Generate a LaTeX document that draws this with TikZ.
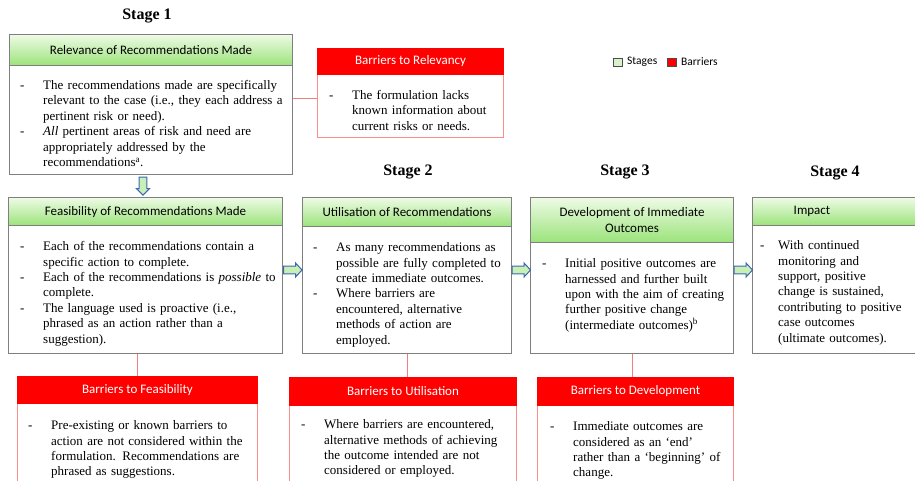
\documentclass[tikz,border=0pt]{standalone}
\usepackage{fontspec}
\setmainfont{Liberation Serif}
\newfontfamily\hdfont{Carlito}
\usetikzlibrary{calc}
\definecolor{boxgray}{HTML}{7F7F7F}
\definecolor{hdtop}{HTML}{EEFBE6}
\definecolor{hdbot}{HTML}{9BE37A}
\definecolor{barred}{HTML}{FF0000}
\definecolor{barline}{HTML}{FF8C8C}
\definecolor{conred}{HTML}{F07F7F}
\definecolor{arrblue}{HTML}{3A66B8}
\definecolor{arrfill}{HTML}{C8F0B4}
\definecolor{lgreen}{HTML}{D8F2CC}
\newlength\dashind
\setlength\dashind{23pt}
\newcommand{\nl}{\hfil\break}
\newcommand{\itm}[1]{\par\noindent\hangindent=\dashind\hangafter=1\makebox[\dashind][l]{-}\strut#1\par}
\tikzset{
  greenhead/.style={draw=boxgray, line width=1.1pt, top color=hdtop, bottom color=hdbot, anchor=north west, inner sep=0pt, font=\hdfont\fontsize{13}{15.5}\selectfont, align=center},
  bodybox/.style={draw=boxgray, line width=1.1pt, fill=white, anchor=north west, inner sep=0pt},
  redhead/.style={draw=barred, fill=barred, text=white, anchor=north west, inner sep=0pt, line width=1pt, font=\hdfont\fontsize{13}{15.5}\selectfont},
  redbody/.style={draw=barline, line width=1pt, fill=white, anchor=north west, inner sep=0pt},
  bodytext/.style={anchor=north west, inner sep=0pt, text width=300pt, font=\fontsize{13}{15.4}\selectfont\raggedright},
  stagetitle/.style={font=\bfseries\fontsize{16}{19}\selectfont, inner sep=0pt},
  conn/.style={draw=conred, line width=1pt},
  legtext/.style={font=\hdfont\fontsize{11.5}{13}\selectfont, anchor=west, inner sep=0pt},
  swatch/.style={draw=black!70, line width=0.8pt, minimum width=9pt, minimum height=8pt, inner sep=0pt},
  harr/.pic={\draw[draw=arrblue, line width=1pt, fill=arrfill, line join=miter] (-9,-3.8) -- (3,-3.8) -- (3,-7) -- (9.5,0) -- (3,7) -- (3,3.8) -- (-9,3.8) -- cycle;},
  varr/.pic={\draw[draw=arrblue, line width=1pt, fill=arrfill, line join=miter] (-3.8,-9) -- (-3.8,2.5) -- (-6.5,2.5) -- (0,9) -- (6.5,2.5) -- (3.8,2.5) -- (3.8,-9) -- cycle;}
}
\begin{document}
\begin{tikzpicture}[x=1pt,y=-1pt]
\useasboundingbox (0,0) rectangle (915,481);
\clip (0,0) rectangle (915,481);

% Stage titles
\node[stagetitle] (st1) at (147,16) {Stage 1};
\node[stagetitle] (st2) at (408,172) {Stage 2};
\node[stagetitle] (st3) at (625,172) {Stage 3};
\node[stagetitle] (st4) at (835,173) {Stage 4};

% Legend
\node[swatch, fill=lgreen] (lgs) at (617.5,62) {};
\node[legtext] (lgst) at (627,62) {Stages};
\node[swatch, fill=barred] (lgb) at (671.5,62) {};
\node[legtext] (lgbt) at (681,62) {Barriers};

% Stage 1: Relevance
\node[bodybox, minimum width=283pt, minimum height=109pt] (relbody) at (9,65) {};
\node[greenhead, minimum width=283pt, minimum height=31pt] (relhead) at (9,34) {Relevance of Recommendations Made};
\node[bodytext] (reltxt) at ($(relbody.north west)+(11,9)$) {\itm{The recommendations made are specifically\nl relevant to the case (i.e., they each address a\nl pertinent risk or need).}\itm{\textit{All} pertinent areas of risk and need are\nl appropriately addressed by the\nl recommendations\textsuperscript{a}.}};

% Barriers to Relevancy
\node[redbody, minimum width=186pt, minimum height=63pt] (relbarbody) at (317,74) {};
\node[redhead, minimum width=186pt, minimum height=26pt] (relbarhead) at (317,48) {Barriers to Relevancy};
\node[bodytext] (relbartxt) at ($(relbarbody.north west)+(12,10)$) {\itm{The formulation lacks\nl known information about\nl current risks or needs.}};

% Feasibility
\node[bodybox, minimum width=274pt, minimum height=128pt] (feasbody) at (8,225) {};
\node[greenhead, minimum width=274pt, minimum height=28pt] (feashead) at (8,197) {Feasibility of Recommendations Made};
\node[bodytext] (feastxt) at ($(feasbody.north west)+(12,10)$) {\itm{Each of the recommendations contain a\nl specific action to complete.}\itm{Each of the recommendations is \textit{possible} to\nl complete.}\itm{The language used is proactive (i.e.,\nl phrased as an action rather than a\nl suggestion).}};

% Utilisation
\node[bodybox, minimum width=209pt, minimum height=127pt] (utilbody) at (302,226) {};
\node[greenhead, minimum width=209pt, minimum height=29pt] (utilhead) at (302,197) {Utilisation of Recommendations};
\node[bodytext] (utiltxt) at ($(utilbody.north west)+(11,10)$) {\itm{As many recommendations as\nl possible are fully completed to\nl create immediate outcomes.}\itm{Where barriers are\nl encountered, alternative\nl methods of action are\nl employed.}};

% Development
\node[bodybox, minimum width=203pt, minimum height=111pt] (devbody) at (530,242) {};
\node[greenhead, minimum width=203pt, minimum height=45pt] (devhead) at (530,197) {Development of Immediate\\Outcomes};
\node[bodytext] (devtxt) at ($(devbody.north west)+(12,10)$) {\itm{Initial positive outcomes are\nl harnessed and further built\nl upon with the aim of creating\nl further positive change\nl (intermediate outcomes)\textsuperscript{b}}};

% Impact
\node[bodybox, minimum width=180pt, minimum height=128pt] (impbody) at (752,225) {};
\node[greenhead, minimum width=180pt, minimum height=28pt] (imphead) at (752,197) {};
\node[inner sep=0pt, font=\hdfont\fontsize{13}{15.5}\selectfont] (imptitle) at (812,211) {Impact};
\node[bodytext] (imptxt) at ($(impbody.north west)+(8,9)$) {\setlength\dashind{18pt}\itm{With continued\nl monitoring and\nl support, positive\nl change is sustained,\nl contributing to positive\nl case outcomes\nl (ultimate outcomes).}};

% Barriers to Feasibility
\node[redbody, minimum width=240pt, minimum height=100pt] (feasbarbody) at (17,403) {};
\node[redhead, minimum width=240pt, minimum height=27pt] (feasbarhead) at (17,376) {Barriers to Feasibility};
\node[bodytext] (feasbartxt) at ($(feasbarbody.north west)+(11,11)$) {\itm{Pre-existing or known barriers to\nl action are not considered within the\nl formulation. Recommendations are\nl phrased as suggestions.}};

% Barriers to Utilisation
\node[redbody, minimum width=227pt, minimum height=100pt] (utilbarbody) at (289,405) {};
\node[redhead, minimum width=227pt, minimum height=28pt] (utilbarhead) at (289,377) {Barriers to Utilisation};
\node[bodytext] (utilbartxt) at ($(utilbarbody.north west)+(12,8)$) {\itm{Where barriers are encountered,\nl alternative methods of achieving\nl the outcome intended are not\nl considered or employed.}};

% Barriers to Development
\node[redbody, minimum width=196pt, minimum height=100pt] (devbarbody) at (537,405) {};
\node[redhead, minimum width=196pt, minimum height=28pt] (devbarhead) at (537,377) {Barriers to Development};
\node[bodytext] (devbartxt) at ($(devbarbody.north west)+(13,10)$) {\itm{Immediate outcomes are\nl considered as an ‘end’\nl rather than a ‘beginning’ of\nl change.}};

% Red connectors
\draw[conn] (relbody.east |- 0,99) -- (relbarbody.west |- 0,99);
\draw[conn] (feasbody.south -| feasbarhead.north) -- (feasbarhead.north);
\draw[conn] (utilbody.south) -- (utilbody.south |- utilbarhead.north);
\draw[conn] (devbody.south) -- (devbody.south |- devbarhead.north);

% Block arrows
\pic at ($(relbody.south -| 143,0)!0.5!(feashead.north -| 143,0)$) {varr};
\pic at ($(feasbody.east |- 0,270)!0.5!(utilbody.west |- 0,270)$) {harr};
\pic at ($(utilbody.east |- 0,270)!0.5!(devbody.west |- 0,270)$) {harr};
\pic at ($(devbody.east |- 0,270)!0.5!(impbody.west |- 0,270)$) {harr};
\end{tikzpicture}
\end{document}
